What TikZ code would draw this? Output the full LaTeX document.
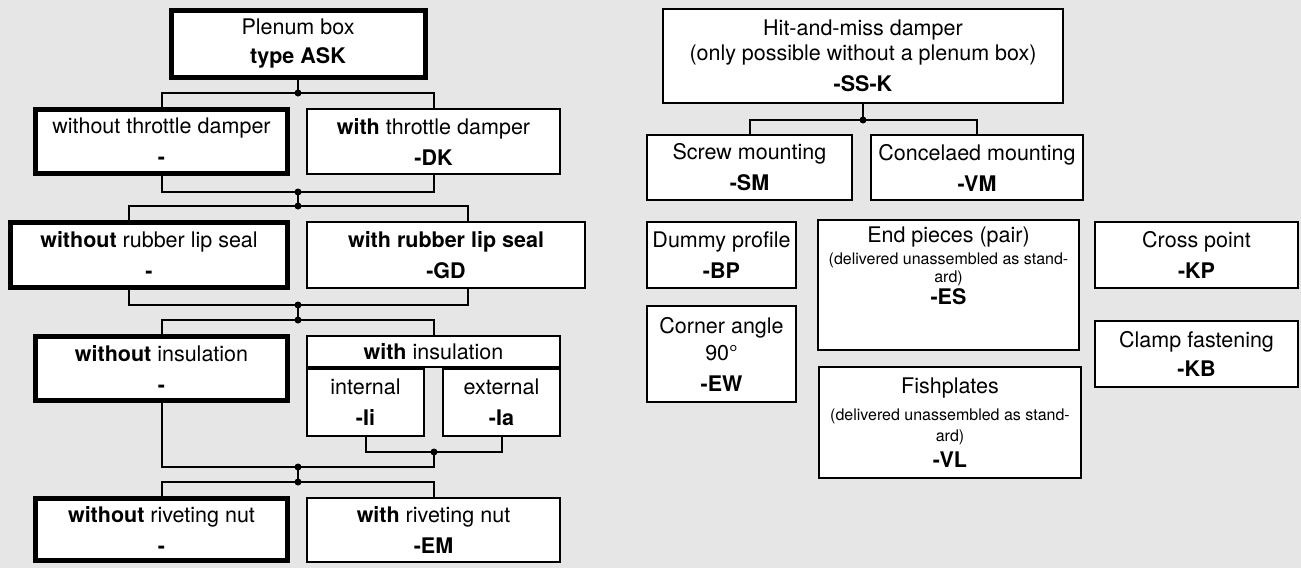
\documentclass[tikz,border=0pt]{standalone}
\usepackage{fontspec}
\setmainfont{TeX Gyre Heros}
\usepackage{xcolor}
\usetikzlibrary{positioning}

\definecolor{bggray}{HTML}{E6E6E6}
\newcommand{\smalltxt}{\fontsize{16}{20}\selectfont}

\begin{document}
\begin{tikzpicture}[
    x=1pt, y=-1pt,
    every node/.style={font=\fontsize{21.5}{31}\selectfont},
    box/.style={draw, fill=white, line width=2pt, inner sep=0pt, align=center},
    stdbox/.style={box, line width=5pt},
    link/.style={line width=2pt}
]
    \fill[bggray] (0,0) rectangle (1301,568);

    % left column: plenum box options
    \node[stdbox, minimum width=254, minimum height=67] (plenum) at (298,44) {Plenum box\\[-2pt]\textbf{type ASK}};
    \node[stdbox, minimum width=252, minimum height=64] (nothrottle) at (161.5,141.5) {without throttle damper\\\textbf{-}};
    \node[box, minimum width=253, minimum height=65] (throttle) at (433.5,141.5) {\textbf{with} throttle damper\\\textbf{-DK}};
    \node[stdbox, minimum width=277, minimum height=65] (nolipseal) at (149,255) {\textbf{without} rubber lip seal\\\textbf{-}};
    \node[box, minimum width=278, minimum height=66] (lipseal) at (446,255) {\textbf{with rubber lip seal}\\\textbf{-GD}};
    \node[stdbox, minimum width=252, minimum height=64] (noinsul) at (161.5,368.5) {\textbf{without} insulation\\\textbf{-}};
    \node[box, minimum width=253, minimum height=31] (insul) at (433.5,351.5) {\textbf{with} insulation};
    \node[box, minimum width=117, minimum height=67, anchor=north west] (inner) at (insul.south west) {internal\\\textbf{-Ii}};
    \node[box, minimum width=117, minimum height=67, anchor=north east] (outer) at (insul.south east) {external\\\textbf{-Ia}};
    \node[stdbox, minimum width=252, minimum height=62] (norivet) at (161.5,529.5) {\textbf{without} riveting nut\\\textbf{-}};
    \node[box, minimum width=253, minimum height=64] (rivet) at (433.5,530) {\textbf{with} riveting nut\\\textbf{-EM}};

    % right part: hit-and-miss damper and accessories
    \node[box, minimum width=400, minimum height=94] (hitmiss) at (863,56) {Hit-and-miss damper\\[-6pt](only possible without a plenum box)\\\textbf{-SS-K}};
    \node[box, minimum width=205, minimum height=65] (screw) at (749.5,167.5) {Screw mounting\\\textbf{-SM}};
    \node[box, minimum width=212, minimum height=65] (concealed) at (977,167.5) {Concelaed mounting\\\textbf{-VM}};
    \node[box, minimum width=149, minimum height=66] (dummy) at (721.5,255) {Dummy profile\\\textbf{-BP}};
    \node[box, minimum width=149, minimum height=96] (corner) at (721.5,354) {Corner angle\\[-4pt]90°\\\textbf{-EW}};
    \node[box, minimum width=261, minimum height=130] (endpieces) at (948.5,285) {};
    \node[below=4pt of endpieces.north, align=center] (endtext) {End pieces (pair)\\[-9pt]{\smalltxt (delivered unassembled as stand-}\\[-13pt]{\smalltxt ard)}\\[-9pt]\textbf{-ES}};
    \node[box, minimum width=203, minimum height=66] (cross) at (1196.5,255) {Cross point\\\textbf{-KP}};
    \node[box, minimum width=203, minimum height=66] (clamp) at (1196.5,354) {Clamp fastening\\[-2pt]\textbf{-KB}};
    \node[box, minimum width=262, minimum height=111] (fishplates) at (950,422.5) {Fishplates\\[-4pt]{\smalltxt (delivered unassembled as stand-}\\[-10pt]{\smalltxt ard)}\\[-5pt]\textbf{-VL}};

    % junctions
    \coordinate (j1) at (298,93);
    \coordinate (j2) at (298,192);
    \coordinate (j3) at (298,206);
    \coordinate (j4) at (298,305);
    \coordinate (j5) at (298,320);
    \coordinate (j6) at (434,452);
    \coordinate (j7) at (298,467);
    \coordinate (j8) at (298,482);
    \coordinate (k1) at (863,120);

    \draw[link] (plenum.south) -- (j1);
    \draw[link] (nothrottle.north) |- (j1) -| (throttle.north);
    \draw[link] (nothrottle.south) |- (j2) -| (throttle.south);
    \draw[link] (j2) -- (j3);
    \draw[link] ([xshift=-20pt]nolipseal.north) |- (j3) -| ([xshift=22pt]lipseal.north);
    \draw[link] ([xshift=-20pt]nolipseal.south) |- (j4) -| ([xshift=22pt]lipseal.south);
    \draw[link] (j4) -- (j5);
    \draw[link] (noinsul.north) |- (j5) -| (insul.north);
    \draw[link] (inner.south) |- (j6) -| (outer.south);
    \draw[link] (noinsul.south) |- (j7) -| (j6);
    \draw[link] (j7) -- (j8);
    \draw[link] (norivet.north) |- (j8) -| (rivet.north);
    \draw[link] (hitmiss.south) -- (k1);
    \draw[link] (screw.north) |- (k1) -| (concealed.north);

    \foreach \j in {j1,j2,j3,j4,j5,j6,j7,j8,k1}
        \fill (\j) circle (3.5);
\end{tikzpicture}
\end{document}
